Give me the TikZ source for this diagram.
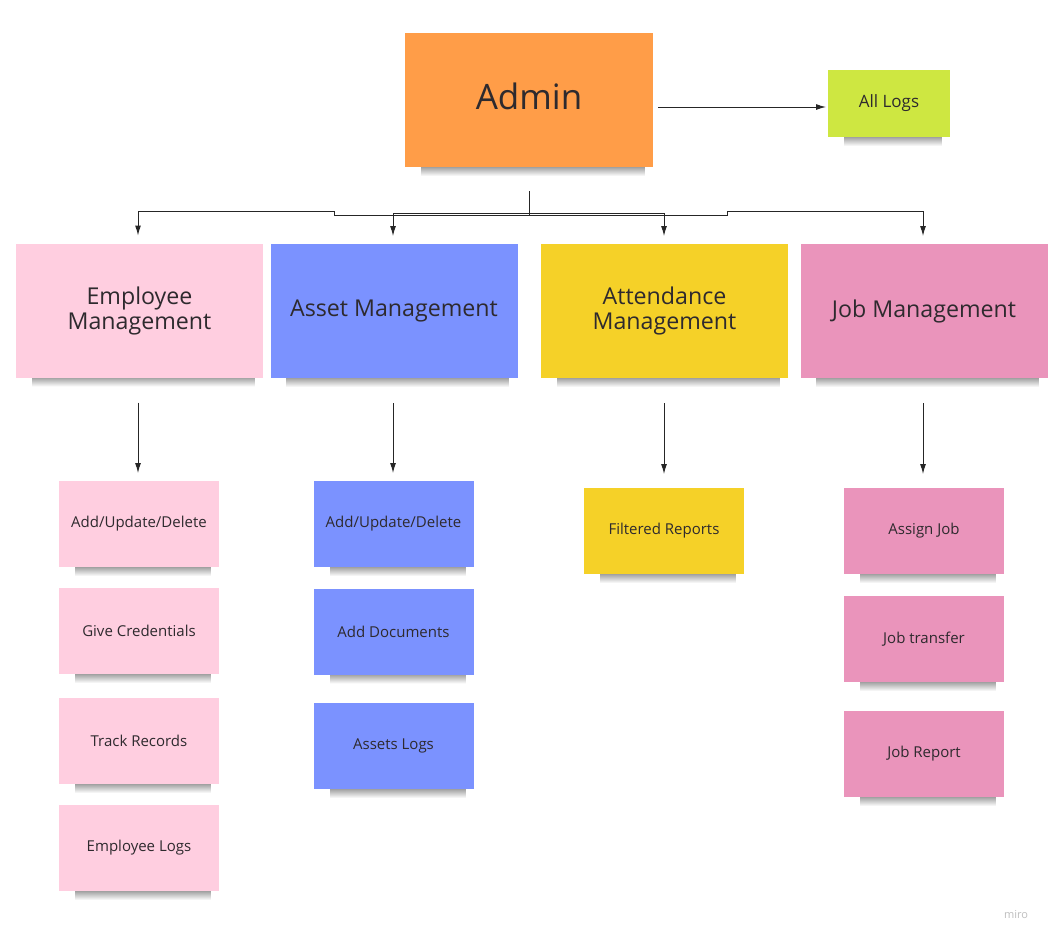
\documentclass[tikz,border=0pt]{standalone}
\usepackage{fontspec}
\setmainfont{Open Sans}
\usetikzlibrary{arrows.meta,fadings,backgrounds,calc}
\definecolor{cadmin}{HTML}{FF9D48}
\definecolor{clogs}{HTML}{CEE741}
\definecolor{cemp}{HTML}{FFCEE0}
\definecolor{casset}{HTML}{7B92FF}
\definecolor{catt}{HTML}{F5D128}
\definecolor{cjob}{HTML}{EA94BB}
\definecolor{ctext}{HTML}{2E2A2E}
\tikzset{
  sticky/.style={rectangle, inner sep=2pt, outer sep=0pt, text=ctext, align=center},
  bigbox/.style={sticky, minimum width=247pt, minimum height=134pt, font=\fontsize{23.2}{27}\selectfont},
  smallbox/.style={sticky, minimum width=160pt, minimum height=86pt, font=\fontsize{15}{18}\selectfont},
  conn/.style={draw=black!85, line width=1pt, -{Latex[length=10pt,width=6pt]}},
  shadowband/.style={fill=black, opacity=0.45, path fading=south},
}
\begin{document}
\begin{tikzpicture}[x=1pt,y=-1pt]
\useasboundingbox (0,0) rectangle (1057,945);

% top level
\node[sticky, fill=cadmin, minimum width=248pt, minimum height=134pt, font=\fontsize{35}{40}\selectfont] (admin) at (529,100) {\raisebox{7pt}{Admin}};
\node[sticky, fill=clogs, minimum width=122pt, minimum height=67pt, font=\fontsize{17}{20}\selectfont] (logs) at (889,103.5) {\raisebox{2pt}{All Logs}};

% categories
\node[bigbox, fill=cemp] (emp) at (139.5,310.5) {\raisebox{3pt}{Employee}\\[-4pt]\raisebox{1pt}{Management}};
\node[bigbox, fill=casset] (asset) at (394,311) {\raisebox{5pt}{Asset Management}};
\node[bigbox, fill=catt] (att) at (664.5,311) {\raisebox{3pt}{Attendance}\\[-4pt]\raisebox{1pt}{Management}};
\node[bigbox, fill=cjob] (job) at (924,311) {\raisebox{5pt}{Job Management}};

% employee items
\node[smallbox, fill=cemp] (e1) at (139,524) {Add/Update/Delete};
\node[smallbox, fill=cemp] (e2) at (139,631) {Give Credentials};
\node[smallbox, fill=cemp] (e3) at (139,741) {Track Records};
\node[smallbox, fill=cemp] (e4) at (139,848) {Employee Logs};

% asset items
\node[smallbox, fill=casset] (a1) at (393.5,524) {Add/Update/Delete};
\node[smallbox, fill=casset] (a2) at (393.5,631.5) {Add Documents};
\node[smallbox, fill=casset] (a3) at (393.5,746) {Assets Logs};

% attendance item
\node[smallbox, fill=catt] (t1) at (664,531) {Filtered Reports};

% job items
\node[smallbox, fill=cjob] (j1) at (924,531) {Assign Job};
\node[smallbox, fill=cjob] (j2) at (924,639) {Job transfer};
\node[smallbox, fill=cjob] (j3) at (924,754) {Job Report};

% shadows
\begin{scope}[on background layer]
\fill[white] (0,0) rectangle (1057,945);
\foreach \n in {admin,logs,emp,asset,att,job,e1,e2,e3,e4,a1,a2,a3,t1,j1,j2,j3}{
  \fill[shadowband] ($(\n.south west)+(16,-2)$) rectangle ($(\n.south east)+(-8,9)$);
}
\end{scope}

% connectors
\draw[conn, shorten <=5pt, shorten >=2pt] (admin.east |- 0,107) -- (logs.west |- 0,107);

\draw[conn, shorten <=24pt, shorten >=8pt] (admin.south) -- (529,215) -- (334,215) -- (334,211) -- (138,211) -- (emp.north -| 138,0);
\draw[conn, shorten <=24pt, shorten >=8pt] (admin.south) -- (529,213) -- (393,213) -- (asset.north -| 393,0);
\draw[conn, shorten <=24pt, shorten >=8pt] (admin.south) -- (529,213) -- (664,213) -- (att.north -| 664,0);
\draw[conn, shorten <=24pt, shorten >=8pt] (admin.south) -- (529,215) -- (727,215) -- (727,211) -- (923,211) -- (job.north -| 923,0);

\draw[conn, shorten <=25pt, shorten >=8pt] (emp.south -| 138,0) -- (e1.north -| 138,0);
\draw[conn, shorten <=25pt, shorten >=8pt] (asset.south -| 393,0) -- (a1.north -| 393,0);
\draw[conn, shorten <=25pt, shorten >=14pt] (att.south -| 664,0) -- (t1.north -| 664,0);
\draw[conn, shorten <=25pt, shorten >=14pt] (job.south -| 923,0) -- (j1.north -| 923,0);

\node[text=black!25, font=\fontsize{11}{13}\selectfont] (miro) at (1016,915) {miro};
\end{tikzpicture}
\end{document}
